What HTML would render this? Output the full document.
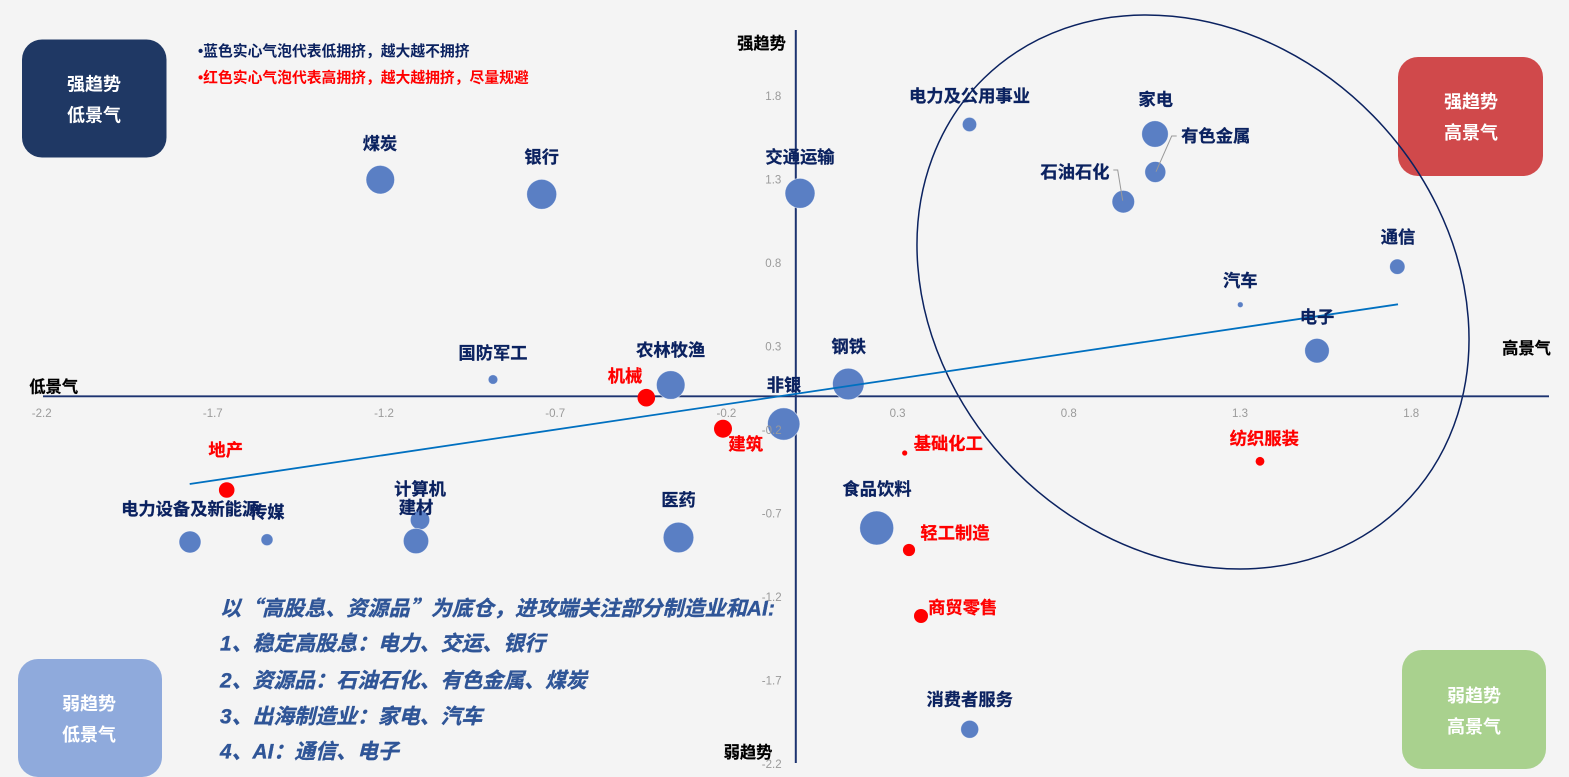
<!DOCTYPE html>
<html><head><meta charset="utf-8">
<style>
html,body{margin:0;padding:0;background:#f4f4f4;}
svg{display:block;}
text{font-family:"Liberation Sans","Noto Sans CJK SC",sans-serif;}
.l{font-size:17.3px;font-weight:700;fill:#0b2260;stroke:#0b2260;stroke-width:.25;text-anchor:middle;}
.r{font-size:17.3px;font-weight:700;fill:#ff0000;stroke:#ff0000;stroke-width:.25;text-anchor:middle;}
.k{font-size:16.3px;font-weight:700;fill:#000;stroke:#000;stroke-width:.2;text-anchor:middle;}
.t{font-size:11.5px;fill:#9a9a9a;text-anchor:middle;}
.q{font-size:18px;font-weight:700;fill:#fff;text-anchor:middle;}
.i{font-size:20.9px;font-weight:700;font-style:italic;fill:#2f5597;stroke:#2f5597;stroke-width:.35;}
.cj{font-family:"Noto Sans CJK SC",sans-serif;}
.b{fill:#5a7fc4;stroke:#fff;stroke-width:.8;stroke-opacity:.6;}
.d{fill:#ff0000;}
</style></head><body>
<svg width="1569" height="777" viewBox="0 0 1569 777" xmlns="http://www.w3.org/2000/svg">
<rect width="1569" height="777" fill="#f4f4f4"/>
<rect x="22" y="39.500" width="144.500" height="118" rx="20" fill="#1f3864"/>
<rect x="1398" y="57" width="145" height="119" rx="20" fill="#d0494b"/>
<rect x="18" y="659" width="144" height="118" rx="20" fill="#8faadc"/>
<rect x="1402" y="650" width="144" height="119" rx="20" fill="#a9d18e"/>
<ellipse cx="1193" cy="292" rx="299" ry="252" transform="rotate(45.6 1193 292)" fill="none" stroke="#0b2260" stroke-width="1.5"/>
<line x1="43" y1="396.300" x2="1549" y2="396.300" stroke="#1c3370" stroke-width="1.8"/>
<line x1="795.800" y1="30" x2="795.800" y2="763" stroke="#1c3370" stroke-width="2"/>
<circle class="b" cx="380.300" cy="179.700" r="14.300"/><circle class="b" cx="541.700" cy="194.300" r="15"/><circle class="b" cx="800" cy="193.300" r="15"/><circle class="b" cx="969.500" cy="124.500" r="7.200"/><circle class="b" cx="1155" cy="134" r="13.300"/><circle class="b" cx="1155.300" cy="172" r="10.500"/><circle class="b" cx="1123.300" cy="201.700" r="11.300"/><circle class="b" cx="1397.300" cy="266.700" r="7.700"/><circle class="b" cx="1240.300" cy="304.700" r="2.900"/><circle class="b" cx="1317" cy="350.700" r="12.300"/><circle class="b" cx="848.300" cy="384" r="15.800"/><circle class="b" cx="670.700" cy="385" r="14.300"/><circle class="b" cx="493" cy="379.500" r="4.800"/><circle class="b" cx="783.700" cy="424" r="16.200"/><circle class="b" cx="876.700" cy="528" r="17"/><circle class="b" cx="678.500" cy="537.500" r="15.300"/><circle class="b" cx="420" cy="520" r="9.700"/><circle class="b" cx="416" cy="541" r="12.700"/><circle class="b" cx="190" cy="542" r="11"/><circle class="b" cx="267" cy="539.700" r="6"/><circle class="b" cx="969.700" cy="729.300" r="9"/>
<circle class="d" cx="646.300" cy="397.700" r="8.800"/><circle class="d" cx="723" cy="428.700" r="9"/><circle class="d" cx="226.700" cy="490" r="7.800"/><circle class="d" cx="904.700" cy="453" r="2.600"/><circle class="d" cx="1260" cy="461.300" r="4.400"/><circle class="d" cx="909" cy="550" r="6.100"/><circle class="d" cx="921" cy="616" r="7"/>
<line x1="189.700" y1="484" x2="1398" y2="304.300" stroke="#0070c0" stroke-width="1.8"/>
<polyline points="1113.300,170 1117.700,170 1122.700,200.700" fill="none" stroke="#999" stroke-width="1"/>
<polyline points="1176.700,136 1171.700,136 1156,171.700" fill="none" stroke="#999" stroke-width="1"/>
<text class="q" x="94" y="90.500">强趋势</text><text class="q" x="94" y="121.500">低景气</text>
<text class="q" x="1471" y="108">强趋势</text><text class="q" x="1471" y="139">高景气</text>
<text class="q" x="89" y="710">弱趋势</text><text class="q" x="89" y="741">低景气</text>
<text class="q" x="1474" y="702">弱趋势</text><text class="q" x="1474" y="733">高景气</text>
<text x="198" y="56" font-size="14.800" font-weight="700" fill="#0b2260">•蓝色实心气泡代表低拥挤，越大越不拥挤</text>
<text x="198" y="82.500" font-size="14.800" font-weight="700" fill="#ff0000">•红色实心气泡代表高拥挤，越大越拥挤，尽量规避</text>
<text class="k" x="761.500" y="49">强趋势</text><text class="k" x="748" y="758">弱趋势</text>
<text class="k" x="53.700" y="392.500">低景气</text><text class="k" x="1526.500" y="354">高景气</text>
<g>
<text class="t" x="41.700" y="417">-2.2</text><text class="t" x="212.800" y="417">-1.7</text><text class="t" x="384" y="417">-1.2</text><text class="t" x="555.200" y="417">-0.7</text><text class="t" x="726.400" y="417">-0.2</text><text class="t" x="897.600" y="417">0.3</text><text class="t" x="1068.800" y="417">0.8</text><text class="t" x="1240" y="417">1.3</text><text class="t" x="1411.200" y="417">1.8</text>
<text class="t" x="773.300" y="100">1.8</text><text class="t" x="773.300" y="183.300">1.3</text><text class="t" x="773.300" y="266.800">0.8</text><text class="t" x="773.300" y="350.300">0.3</text><text class="t" x="771.700" y="434">-0.2</text><text class="t" x="771.700" y="517.300">-0.7</text><text class="t" x="771.700" y="600.800">-1.2</text><text class="t" x="771.700" y="684.300">-1.7</text><text class="t" x="771.700" y="767.800">-2.2</text>
</g>
<text class="l" x="380" y="149.600">煤炭</text><text class="l" x="541.700" y="163">银行</text><text class="l" x="800" y="163">交通运输</text><text class="l" x="969.500" y="102">电力及公用事业</text><text class="l" x="1155.700" y="105.600">家电</text><text class="l" x="1215.700" y="142">有色金属</text><text class="l" x="1075" y="178">石油石化</text><text class="l" x="1398" y="243">通信</text><text class="l" x="1240.300" y="286.300">汽车</text><text class="l" x="1317" y="323">电子</text><text class="l" x="848.700" y="352.500">钢铁</text><text class="l" x="670.700" y="356">农林牧渔</text><text class="l" x="493" y="359">国防军工</text><text class="l" x="784" y="391">非银</text><text class="l" x="877" y="495">食品饮料</text><text class="l" x="678.500" y="506">医药</text><text class="l" x="420" y="495">计算机</text><text class="l" x="416" y="513.300">建材</text><text class="l" x="190.200" y="515">电力设备及新能源</text><text class="l" x="267.300" y="517.800">传媒</text><text class="l" x="969.700" y="705.600">消费者服务</text>
<text class="r" x="625" y="382">机械</text><text class="r" x="745.700" y="450">建筑</text><text class="r" x="225.700" y="456">地产</text><text class="r" x="948.300" y="449.300">基础化工</text><text class="r" x="1264.300" y="444.300">纺织服装</text><text class="r" x="955" y="539">轻工制造</text><text class="r" x="962.700" y="613.300">商贸零售</text>
<text class="i" x="220" y="615.500" textLength="555" lengthAdjust="spacing">以<tspan class="cj">“</tspan>高股息、资源品<tspan class="cj">”</tspan>为底仓，进攻端关注部分制造业和AI:</text>
<text class="i" x="220" y="650.500">1、稳定高股息：电力、交运、银行</text>
<text class="i" x="220" y="687.500">2、资源品：石油石化、有色金属、煤炭</text>
<text class="i" x="220" y="723.500">3、出海制造业：家电、汽车</text>
<text class="i" x="220" y="758.500">4、AI：通信、电子</text>
</svg>
</body></html>
